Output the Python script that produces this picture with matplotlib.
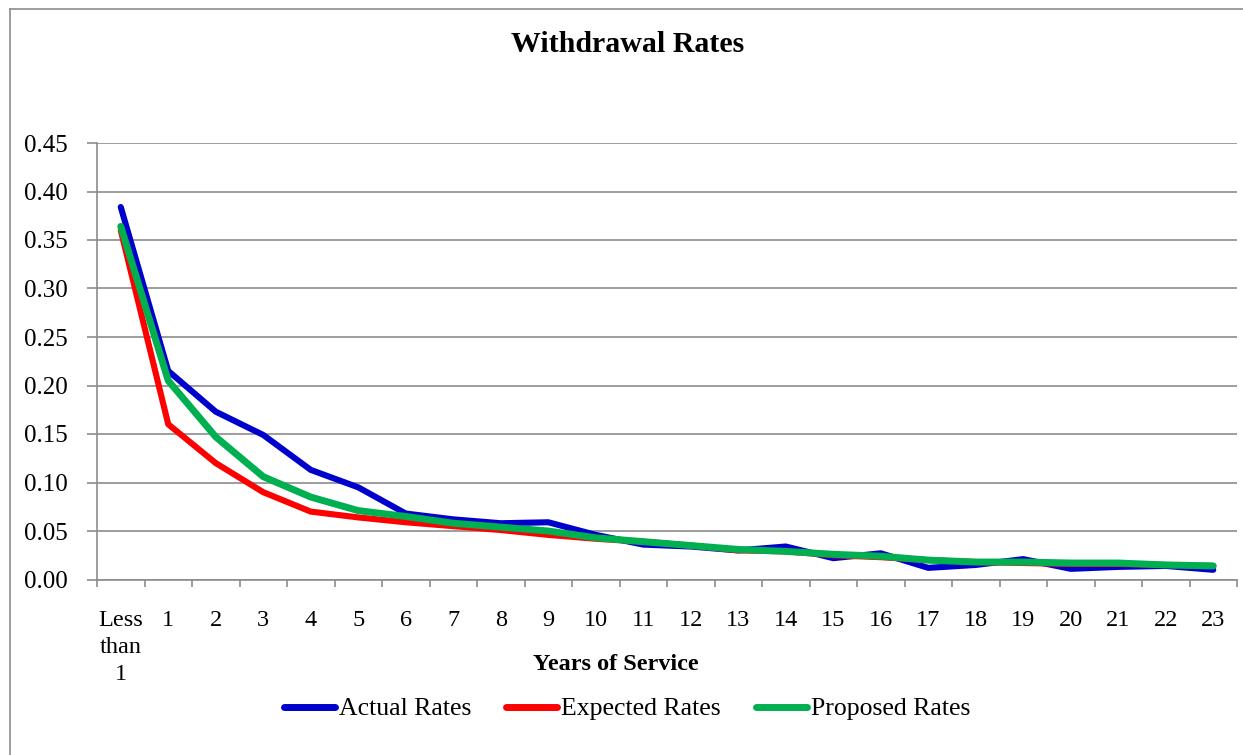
import matplotlib as mpl
mpl.use("Agg")
import matplotlib.pyplot as plt
import numpy as np
from matplotlib.lines import Line2D

# ---------------------------------------------------------------------------
# Data
# ---------------------------------------------------------------------------
CATEGORIES = ["Less\nthan\n1"] + [str(i) for i in range(1, 24)]

ACTUAL = [0.384, 0.215, 0.173, 0.149, 0.113, 0.095, 0.068, 0.062, 0.058, 0.059,
          0.046, 0.036, 0.034, 0.030, 0.034, 0.022, 0.027, 0.012, 0.015, 0.021,
          0.011, 0.013, 0.014, 0.010]
EXPECTED = [0.360, 0.160, 0.120, 0.090, 0.070, 0.064, 0.059, 0.055, 0.051, 0.046,
            0.042, 0.039, 0.035, 0.030, 0.029, 0.025, 0.023, 0.020, 0.018, 0.017,
            0.016, 0.016, 0.015, 0.014]
PROPOSED = [0.364, 0.205, 0.147, 0.106, 0.085, 0.071, 0.065, 0.058, 0.054, 0.050,
            0.043, 0.039, 0.035, 0.031, 0.029, 0.026, 0.024, 0.020, 0.018, 0.018,
            0.017, 0.017, 0.015, 0.014]

SERIES = [
    ("Actual Rates", ACTUAL, "#0000CC", 4.4),
    ("Expected Rates", EXPECTED, "#FF0000", 4.4),
    ("Proposed Rates", PROPOSED, "#00B050", 5.0),
]

GRID = "#8C8C8C"

mpl.rcParams.update({
    "font.family": ["Liberation Serif", "DejaVu Serif"],
    "font.size": 17.5,
})

W, H = 1243, 755
fig = plt.figure(figsize=(W / 100, H / 100), dpi=100)

# outer chart border (left and top visible)
fig.add_artist(Line2D([10 / W, 10 / W], [0, 1 - 9 / H], color=GRID, lw=1.2,
                      transform=fig.transFigure))
fig.add_artist(Line2D([10 / W, 1], [1 - 9 / H, 1 - 9 / H], color=GRID, lw=1.2,
                      transform=fig.transFigure))

ax = fig.add_axes([97 / W, 1 - 579.5 / H, (1237 - 97) / W, (579.5 - 143) / H])

x = np.arange(len(CATEGORIES))
for name, vals, color, lw in SERIES:
    ax.plot(x, vals, color=color, lw=lw, label=name,
            solid_capstyle="round", solid_joinstyle="round", zorder=3)

ax.set_xlim(-0.5, len(CATEGORIES) - 0.5)
ax.set_ylim(0, 0.45)
ax.set_yticks(np.arange(0, 0.451, 0.05))
ax.yaxis.set_major_formatter(mpl.ticker.FormatStrFormatter("%.2f"))
ax.grid(axis="y", color=GRID, lw=1.2)
ax.set_axisbelow(True)

# category boundaries get ticks, labels sit at category centres
ax.set_xticks(np.arange(-0.5, len(CATEGORIES), 1.0))
ax.set_xticklabels([])
ax.set_xticks(x, minor=True)
ax.set_xticklabels(CATEGORIES, minor=True, linespacing=1.38)
ax.tick_params(axis="x", which="major", length=5, width=1.2, color=GRID)
ax.tick_params(axis="x", which="minor", length=0, pad=22)
ax.tick_params(axis="y", length=7, width=1.2, color=GRID, pad=14, labelsize=18)

for side in ("top", "right"):
    ax.spines[side].set_visible(False)
for side in ("left", "bottom"):
    ax.spines[side].set_color(GRID)
    ax.spines[side].set_linewidth(1.2)

fig.text(628 / W, 1 - 44 / H, "Withdrawal Rates", ha="center", va="center",
         fontsize=21.5, fontweight="bold")
fig.text(616 / W, 1 - 664 / H, "Years of Service", ha="center", va="center",
         fontsize=17.5, fontweight="bold")

leg = fig.legend(loc="center", bbox_to_anchor=(627 / W, 1 - 709 / H), ncol=3,
                 frameon=False, fontsize=18.5, handlelength=2.0, handletextpad=0.15,
                 columnspacing=1.35)
for line in leg.get_lines():
    line.set_solid_capstyle("round")
    line.set_linewidth(5)

fig.savefig("out.png", dpi=100)
